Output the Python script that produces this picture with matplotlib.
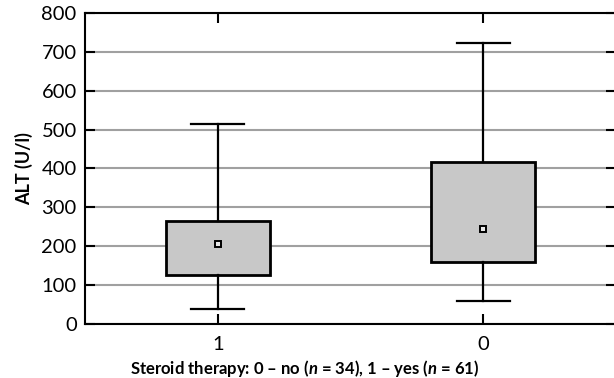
import matplotlib.pyplot as plt

# ALT by steroid therapy group
groups = ['1', '0']
whisker_low = [39, 59]
q1 = [126, 159]
q3 = [265, 417]
whisker_high = [514, 722]
means = [206, 244]

yticks = [0, 100, 200, 300, 400, 500, 600, 700, 800]

plt.rcParams['font.family'] = ['Lato', 'DejaVu Sans']
plt.rcParams['mathtext.fontset'] = 'custom'
plt.rcParams['mathtext.it'] = 'Lato:italic:bold'
plt.rcParams['mathtext.rm'] = 'Lato:bold'


def main():
    fig = plt.figure(figsize=(6.14, 3.78), dpi=100)
    ax = fig.add_axes([85 / 614, 1 - 324 / 378, 531 / 614, 311 / 378])

    stats = []
    for i in range(len(groups)):
        stats.append({
            'whislo': whisker_low[i], 'q1': q1[i], 'med': means[i],
            'q3': q3[i], 'whishi': whisker_high[i], 'mean': means[i],
            'fliers': [], 'label': groups[i],
        })

    ax.bxp(stats, positions=[1, 2], widths=0.39, showmeans=True,
           patch_artist=True, showfliers=False,
           boxprops=dict(facecolor='#c8c8c8', edgecolor='black', linewidth=2),
           whiskerprops=dict(color='black', linewidth=1.6),
           capprops=dict(color='black', linewidth=1.6),
           capwidths=0.2,
           medianprops=dict(linewidth=0),
           meanprops=dict(marker='s', markersize=5, markerfacecolor='#e8e8e8',
                          markeredgecolor='black', markeredgewidth=1.4))

    ax.set_xlim(0.5, 2.5)
    ax.set_ylim(0, 800)
    ax.set_yticks(yticks)
    ax.yaxis.grid(True, color='#a0a0a0', linewidth=1.5)
    ax.set_axisbelow(True)
    ax.tick_params(axis='both', direction='in', length=7, width=1.5,
                   labelsize=14.5, top=True, right=True)
    ax.tick_params(axis='x', pad=9)
    ax.tick_params(axis='y', pad=6)
    for spine in ax.spines.values():
        spine.set_linewidth(1.5)

    ax.set_ylabel('ALT (U/l)', fontsize=13, fontweight='bold', labelpad=6)
    ax.set_xlabel('Steroid therapy: 0 – no ($n$ = 34), 1 – yes ($n$ = 61)',
                  fontsize=12, fontweight='bold')
    ax.xaxis.set_label_coords(220 / 531, -0.11)

    fig.savefig('out.png', dpi=100)


if __name__ == '__main__':
    main()
